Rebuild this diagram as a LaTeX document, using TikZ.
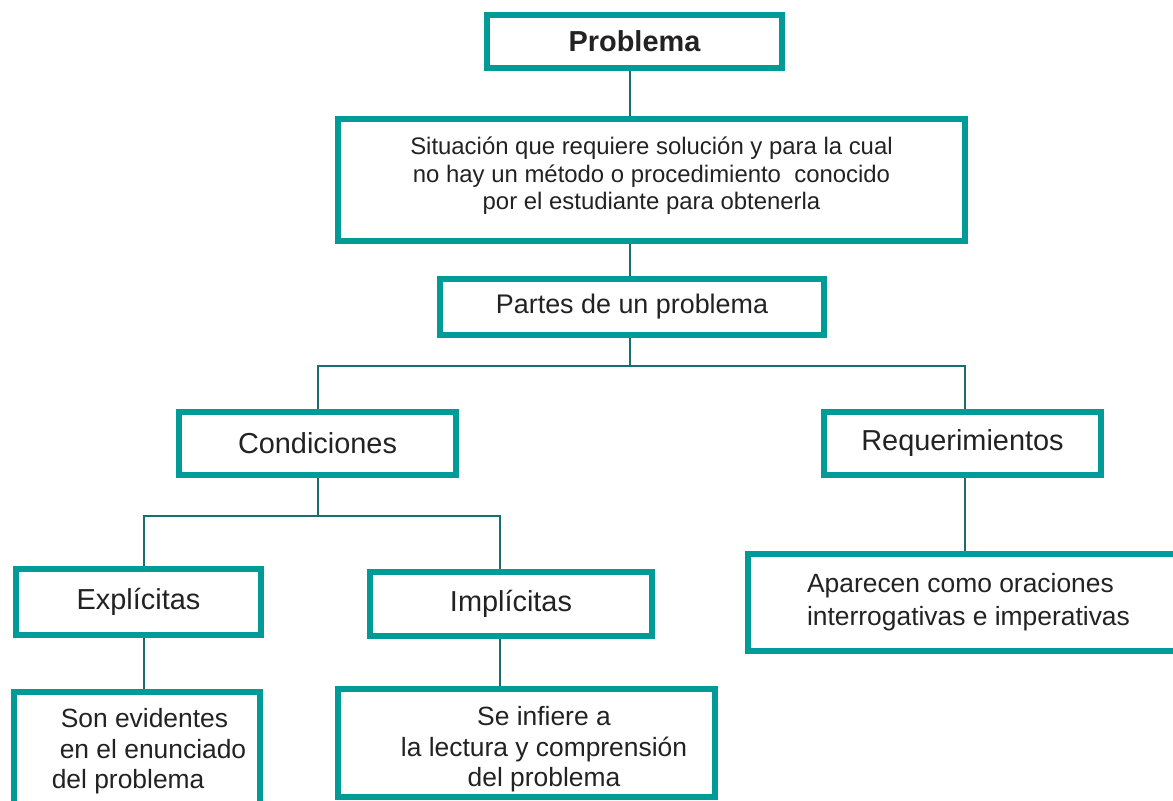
\documentclass[tikz,border=0pt]{standalone}
\usepackage{fontspec}
\setmainfont{Liberation Sans}
\definecolor{boxteal}{HTML}{009B96}
\definecolor{linkteal}{HTML}{17706E}
\definecolor{ink}{HTML}{222222}
\tikzset{
  box/.style={draw=boxteal, line width=6bp, fill=white, inner sep=0pt, text=ink, rectangle},
  conn/.style={draw=linkteal, line width=2.8bp},
  bigtxt/.style={font=\fontsize{29}{34}\selectfont},
  lowtxt/.style={font=\fontsize{26.5}{30.5}\selectfont},
}
\begin{document}
\begin{tikzpicture}[x=1bp,y=-1bp]
\useasboundingbox (0,0) rectangle (1173,801);
\clip (0,0) rectangle (1173,801);
\fill[white] (0,0) rectangle (1173,801);

\node[box, minimum width=295bp, minimum height=53bp, font=\fontsize{29}{34}\selectfont\bfseries] (prob) at (634.5,41.5) {Problema};
\node[box, minimum width=627bp, minimum height=122bp, align=center, font=\fontsize{24}{27.5}\selectfont] (sit) at (651.5,180)
  {Situación que requiere solución y para la cual\\no hay un método o procedimiento\ \ conocido\\por el estudiante para obtenerla\rule[-13bp]{0pt}{13bp}};
\node[box, minimum width=384bp, minimum height=56bp, font=\fontsize{27}{32}\selectfont] (partes) at (632,307) {Partes de un problema};
\node[box, bigtxt, minimum width=277bp, minimum height=63bp] (cond) at (317.5,443.5) {Condiciones};
\node[box, bigtxt, minimum width=277bp, minimum height=63bp] (req) at (962.5,443.5) {Requerimientos};
\node[box, bigtxt, minimum width=245bp, minimum height=66bp] (expl) at (138.5,602) {Explícitas};
\node[box, bigtxt, minimum width=282bp, minimum height=64bp] (impl) at (511,604) {Implícitas};
\node[box, lowtxt, minimum width=246bp, minimum height=119bp, align=left] (son) at (137,751.5)
  {\hspace*{33bp}Son evidentes\\\hspace*{32bp}en el enunciado\\\hspace*{24bp}del problema};
\node[box, lowtxt, minimum width=377bp, minimum height=108bp, align=center] (infiere) at (526.5,743)
  {\hspace*{35bp}\rule{0pt}{32.2bp}Se infiere a\\\hspace*{35bp}la lectura y comprensión\\\hspace*{35bp}del problema};
\node[box, minimum width=441bp, minimum height=97bp, align=left, font=\fontsize{26.5}{33}\selectfont] (apar) at (968.5,602.5)
  {Aparecen como oraciones\\interrogativas e imperativas};

\coordinate (t1) at (630,366);
\coordinate (tL) at (318,366);
\coordinate (tR) at (965,366);
\coordinate (c1) at (318,516);
\coordinate (cL) at (144,516);
\coordinate (cR) at (500,516);

\draw[conn] (prob.south -| t1) -- (sit.north -| t1);
\draw[conn] (sit.south -| t1) -- (partes.north -| t1);
\draw[conn] (partes.south -| t1) -- (t1);
\draw[conn] (cond.north -| tL) -- (tL) -- (tR) -- (req.north -| tR);
\draw[conn] (cond.south -| c1) -- (c1);
\draw[conn] (expl.north -| cL) -- (cL) -- (cR) -- (impl.north -| cR);
\draw[conn] (req.south -| tR) -- (apar.north -| tR);
\draw[conn] (expl.south -| cL) -- (son.north -| cL);
\draw[conn] (impl.south -| cR) -- (infiere.north -| cR);
\end{tikzpicture}
\end{document}
